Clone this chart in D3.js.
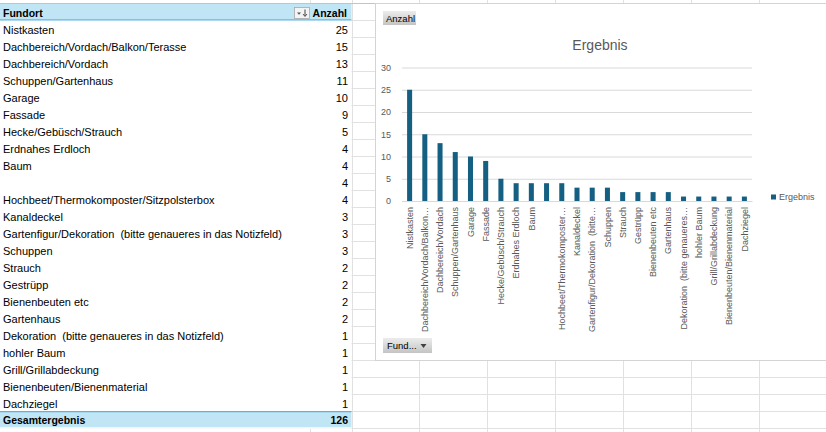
<!DOCTYPE html>
<html>
<head>
<meta charset="utf-8">
<script src="https://cdn.jsdelivr.net/npm/d3@7"></script>
<style>
  body { margin: 0; background: #fff; }
  svg { display: block; font-family: "Liberation Sans", Arial, sans-serif; }
  svg text { white-space: pre; }
</style>
</head>
<body>
<div id="sheet"></div>
<script>
// pivot data (Fundort / Anzahl)
const fundorte = [
  "Nistkasten",
  "Dachbereich/Vordach/Balkon/Terasse",
  "Dachbereich/Vordach",
  "Schuppen/Gartenhaus",
  "Garage",
  "Fassade",
  "Hecke/Gebüsch/Strauch",
  "Erdnahes Erdloch",
  "Baum",
  "",
  "Hochbeet/Thermokomposter/Sitzpolsterbox",
  "Kanaldeckel",
  "Gartenfigur/Dekoration  (bitte genaueres in das Notizfeld)",
  "Schuppen",
  "Strauch",
  "Gestrüpp",
  "Bienenbeuten etc",
  "Gartenhaus",
  "Dekoration  (bitte genaueres in das Notizfeld)",
  "hohler Baum",
  "Grill/Grillabdeckung",
  "Bienenbeuten/Bienenmaterial",
  "Dachziegel"
];
const anzahl = [25, 15, 13, 11, 10, 9, 5, 4, 4, 4, 4, 3, 3, 3, 2, 2, 2, 2, 1, 1, 1, 1, 1];
const yTicks = [0, 5, 10, 15, 20, 25, 30];
const chartTitle = "Ergebnis";
const seriesName = "Ergebnis";

let W = 826, H = 432;
let rowH = 17, row0 = 3.3;
let colEdges = [310.5, 352, 419.5, 487.5, 555.5, 623.5, 691.5, 759.5];

let svg = d3.select("#sheet").append("svg")
  .attr("width", W)
  .attr("height", H);

// worksheet grid
let grid = svg.append("g").attr("stroke", "#e1e1e1").attr("shape-rendering", "crispEdges");
colEdges.forEach(function (x) {
  grid.append("line").attr("x1", x).attr("x2", x).attr("y1", 0).attr("y2", H);
});
for (let k = 1; k < 27; k++) {
  let y = row0 + rowH * k;
  grid.append("line").attr("x1", 0).attr("x2", W).attr("y1", y).attr("y2", y);
}

// pivot table area (hides grid)
let nRows = fundorte.length;
svg.append("rect")
  .attr("x", 0).attr("y", row0)
  .attr("width", 351.5).attr("height", rowH * (nRows + 2) + 0.5)
  .attr("fill", "#fff");

svg.append("line")
  .attr("x1", 0).attr("x2", W).attr("y1", 3.5).attr("y2", 3.5)
  .attr("stroke", "#c4c4c4");

let pivot = svg.append("g").style("font-size", "11px").attr("fill", "#000");

// header
pivot.append("rect").attr("x", 0).attr("y", 4).attr("width", 351.5).attr("height", 15.5).attr("fill", "#c0e6f5");
pivot.append("line").attr("x1", 0).attr("x2", 351.5).attr("y1", 19.8).attr("y2", 19.8)
  .attr("stroke", "#5ab4e0").attr("stroke-width", 1.2);
pivot.append("text").attr("x", 3).attr("y", row0 + 13.7).style("font-weight", "bold")
  .style("font-size", "10.5px").text("Fundort");
pivot.append("text").attr("x", 347).attr("y", row0 + 13.7).attr("text-anchor", "end")
  .style("font-weight", "bold").style("font-size", "10.5px").text("Anzahl");

// sort button
pivot.append("rect").attr("x", 294.5).attr("y", 7.5).attr("width", 15).attr("height", 11)
  .attr("fill", "#f4f4f4").attr("stroke", "#a8a8a8").attr("stroke-width", 0.8);
pivot.append("path").attr("d", "M297,12.5 L301,12.5 L299,14.8 Z").attr("fill", "#555");
pivot.append("path").attr("d", "M305,9.5 L305,16").attr("stroke", "#444").attr("stroke-width", 1);
pivot.append("path").attr("d", "M303,14 L305,16.5 L307,14").attr("stroke", "#444").attr("fill", "none").attr("stroke-width", 0.9);

// rows
fundorte.forEach(function (name, i) {
  let base = row0 + rowH * (i + 1) + 13.7;
  pivot.append("text").attr("x", 3).attr("y", base).text(name);
  pivot.append("text").attr("x", 348).attr("y", base).attr("text-anchor", "end").text(anzahl[i]);
});

// total row
let totTop = row0 + rowH * (nRows + 1);
pivot.append("rect").attr("x", 0).attr("y", totTop + 0.5).attr("width", 351.5).attr("height", 15.5).attr("fill", "#c0e6f5");
pivot.append("line").attr("x1", 0).attr("x2", 351.5).attr("y1", totTop + 0.3).attr("y2", totTop + 0.3)
  .attr("stroke", "#5ab4e0").attr("stroke-width", 1.2);
pivot.append("text").attr("x", 3).attr("y", totTop + 13).style("font-weight", "bold")
  .style("font-size", "10.5px").text("Gesamtergebnis");
pivot.append("text").attr("x", 348).attr("y", totTop + 13).attr("text-anchor", "end")
  .style("font-weight", "bold").style("font-size", "10.5px").text(d3.sum(anzahl));

// chart object
let chart = svg.append("g");
chart.append("rect")
  .attr("x", 375.5).attr("y", 3.5).attr("width", 460).attr("height", 357)
  .attr("fill", "#fff").attr("stroke", "#d4d4d4");

let defs = svg.append("defs");
let grad = defs.append("linearGradient").attr("id", "btn").attr("x1", 0).attr("x2", 0).attr("y1", 0).attr("y2", 1);
grad.append("stop").attr("offset", "0%").attr("stop-color", "#ececec");
grad.append("stop").attr("offset", "100%").attr("stop-color", "#c4c4c4");

// field buttons
chart.append("rect").attr("x", 383).attr("y", 11).attr("width", 33).attr("height", 14).attr("fill", "url(#btn)");
chart.append("text").attr("x", 386).attr("y", 21.5).style("font-size", "9.5px").attr("fill", "#000").text("Anzahl");
chart.append("rect").attr("x", 383).attr("y", 338).attr("width", 49).attr("height", 15).attr("fill", "url(#btn)");
chart.append("text").attr("x", 387).attr("y", 349).style("font-size", "9.5px").attr("fill", "#000").text("Fund...");
chart.append("path").attr("d", "M420.5,344 L426.5,344 L423.5,348 Z").attr("fill", "#404040");

// title
chart.append("text").attr("x", 600).attr("y", 50).attr("text-anchor", "middle")
  .style("font-size", "14px").attr("fill", "#595959").text(chartTitle);

// scales
let x = d3.scaleBand()
  .domain(d3.range(nRows))
  .range([402, 752])
  .paddingInner(0.67)
  .paddingOuter(0.335);
let y = d3.scaleLinear().domain([0, 30]).range([201, 67.5]);

// y axis with gridlines
let yAxis = d3.axisLeft(y).tickValues(yTicks).tickSize(-350).tickPadding(11);
let yg = chart.append("g").attr("transform", "translate(402,0)").call(yAxis);
yg.select(".domain").remove();
yg.selectAll(".tick line").attr("stroke", "#d9d9d9");
yg.selectAll(".tick text").attr("fill", "#595959").style("font-size", "9px")
  .style("font-family", "Liberation Sans, Arial, sans-serif");

// bars
chart.selectAll("rect.bar")
  .data(anzahl)
  .enter().append("rect")
  .attr("class", "bar")
  .attr("x", (d, i) => x(i))
  .attr("width", x.bandwidth())
  .attr("y", d => y(d))
  .attr("height", d => y(0) - y(d))
  .attr("fill", "#156082");

// x axis with rotated, truncated labels
let xAxis = d3.axisBottom(x).tickSize(0).tickFormat(i => fundorte[i]);
let xg = chart.append("g").attr("transform", "translate(0,201)").call(xAxis);
xg.select(".domain").attr("stroke", "#d9d9d9");
xg.selectAll(".tick text")
  .attr("fill", "#595959")
  .style("font-size", "9px")
  .style("font-family", "Liberation Sans, Arial, sans-serif")
  .attr("text-anchor", "end")
  .attr("transform", "rotate(-90)")
  .attr("x", -6)
  .attr("y", 0)
  .attr("dy", "0.35em");

// shorten long labels at word breaks, like Excel does
let maxLen = 128;
xg.selectAll(".tick text").each(function (i) {
  let el = d3.select(this);
  let full = fundorte[i];
  if (this.getComputedTextLength() <= maxLen) return;
  let best = "";
  for (let k = 1; k < full.length; k++) {
    if (full[k] === " " || full[k] === "/") {
      let cand = full.slice(0, k).replace(/\s+$/, "");
      el.text(cand + "…");
      if (this.getComputedTextLength() <= maxLen) best = cand;
    }
  }
  el.text(best + "…");
});

// legend
chart.append("rect").attr("x", 771).attr("y", 194.5).attr("width", 5).attr("height", 5).attr("fill", "#156082");
chart.append("text").attr("x", 779).attr("y", 200.3).style("font-size", "9px").attr("fill", "#595959").text(seriesName);
</script>
</body>
</html>
